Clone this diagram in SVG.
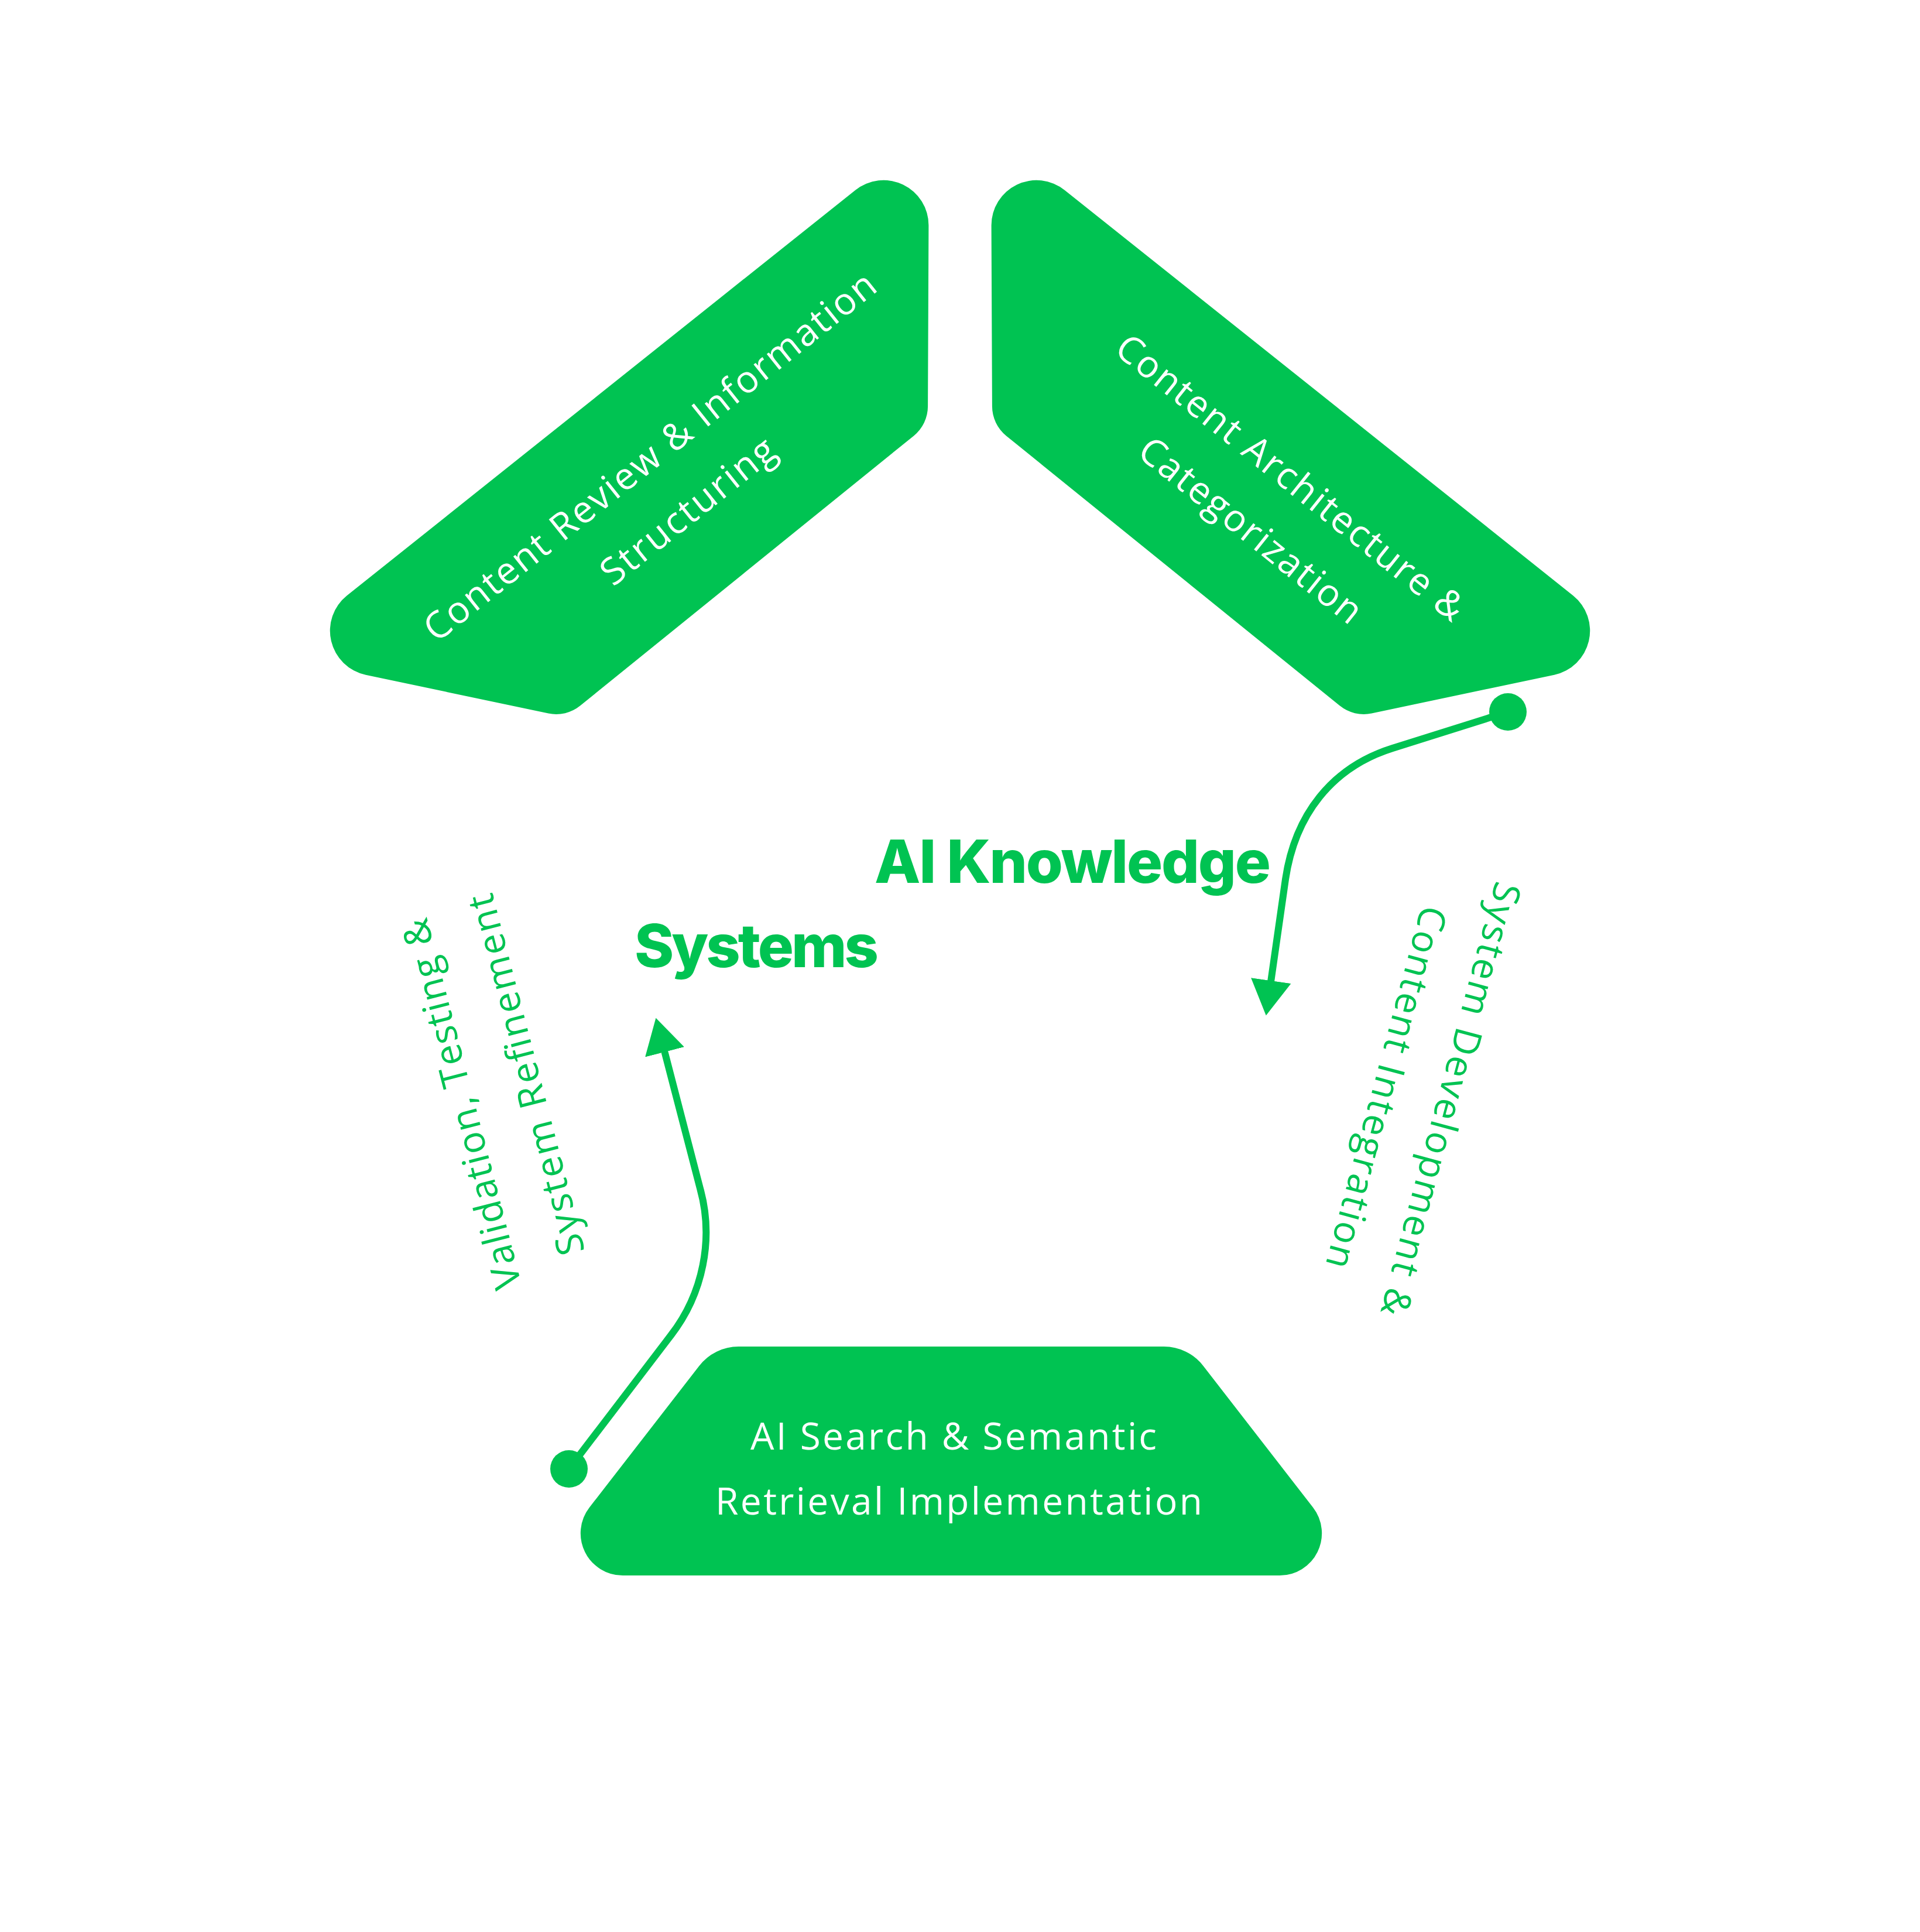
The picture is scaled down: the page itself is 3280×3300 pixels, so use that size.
<svg xmlns="http://www.w3.org/2000/svg" width="3280" height="3300" viewBox="0 0 3280 3300">
  <style>
    .shape { fill: #00C352; }
    .ntext { fill: #FFFFFF; font-family: "Open Sans", "Noto Sans", "Liberation Sans", sans-serif; font-size: 64px; font-weight: 500; text-anchor: middle; }
    .lbl { fill: #00C352; font-family: "Open Sans", "Noto Sans", "Liberation Sans", sans-serif; font-size: 64px; font-weight: 500; text-anchor: middle; }
    .title { fill: #00C352; font-family: Inter, "Liberation Sans", sans-serif; font-weight: 800; font-size: 102px; }
    .conn { fill: none; stroke: #00C352; stroke-width: 12; }
    .dot { fill: #00C352; }
  </style>
  <defs>
    <marker id="ah" markerUnits="userSpaceOnUse" viewBox="0 0 64 72" markerWidth="64" markerHeight="72" refX="2" refY="36" orient="auto">
      <path d="M0,1.5 L60,36 L0,70.5 Z" fill="#00C352"/>
    </marker>
  </defs>
  <rect x="0" y="0" width="3280" height="3300" fill="#FFFFFF"/>

  <g id="node-content-review">
    <path class="shape" d="M592.7,1017.2 L1461.3,324.7 A77,77 0 0 1 1586.4,385.2 L1585.1,694.1 A65,65 0 0 1 1561.0,744.4 L991.0,1205.6 A65,65 0 0 1 936.8,1218.6 L624.8,1152.7 A77,77 0 0 1 592.7,1017.2 Z"/>
    <text class="ntext" transform="translate(1124,797) rotate(-38.6)" textLength="968">Content Review &amp; Information</text>
    <text class="ntext" transform="translate(1189,890) rotate(-38.6)" textLength="362">Structuring</text>
  </g>

  <g id="node-content-architecture">
    <path class="shape" d="M2687.3,1017.2 L1818.7,324.7 A77,77 0 0 0 1693.6,385.2 L1694.9,694.1 A65,65 0 0 0 1719.0,744.4 L2289.0,1205.6 A65,65 0 0 0 2343.2,1218.6 L2655.2,1152.7 A77,77 0 0 0 2687.3,1017.2 Z"/>
    <text class="ntext" transform="translate(2191,833) rotate(38.6)" textLength="742">Content Architecture &amp;</text>
    <text class="ntext" transform="translate(2123,923) rotate(38.6)" textLength="468">Categorization</text>
  </g>

  <g id="node-ai-search">
    <path class="shape" d="M1261.7,2300 L1988.3,2300 A85,85 0 0 1 2055.5,2333.0 L2243.0,2574.8 A72,72 0 0 1 2186,2691 L1064,2691 A72,72 0 0 1 1007.0,2574.8 L1194.5,2333.0 A85,85 0 0 1 1261.7,2300 Z"/>
    <text class="ntext" x="1629" y="2476" textLength="694">AI Search &amp; Semantic</text>
    <text class="ntext" x="1638" y="2587" textLength="832">Retrieval Implementation</text>
  </g>

  <g id="node-title">
    <text class="title" x="1494" y="1508" textLength="677">AI Knowledge</text>
    <text class="title" x="1084" y="1652" textLength="417">Systems</text>
  </g>

  <g id="connectors">
    <path class="conn" d="M2576,1216 L2379,1278 C2274,1311 2212,1393 2196,1502 L2171,1677" marker-end="url(#ah)"/>
    <circle class="dot" cx="2576" cy="1216" r="32"/>
    <path class="conn" d="M972,2509 L1146,2281 C1201,2210 1220,2116 1196,2030 L1135,1795" marker-end="url(#ah)"/>
    <circle class="dot" cx="972" cy="2509" r="32"/>
  </g>

  <g id="label-system-development">
    <text class="lbl" transform="translate(2457,1872) rotate(105)" textLength="764">System Development &amp;</text>
    <text class="lbl" transform="translate(2347,1852) rotate(105)" textLength="638">Content Integration</text>
  </g>

  <g id="label-validation">
    <text class="lbl" transform="translate(810,1880) rotate(-104.5)" textLength="650">Validation, Testing &amp;</text>
    <text class="lbl" transform="translate(920,1830) rotate(-104.5)" textLength="634">System Refinement</text>
  </g>
</svg>
